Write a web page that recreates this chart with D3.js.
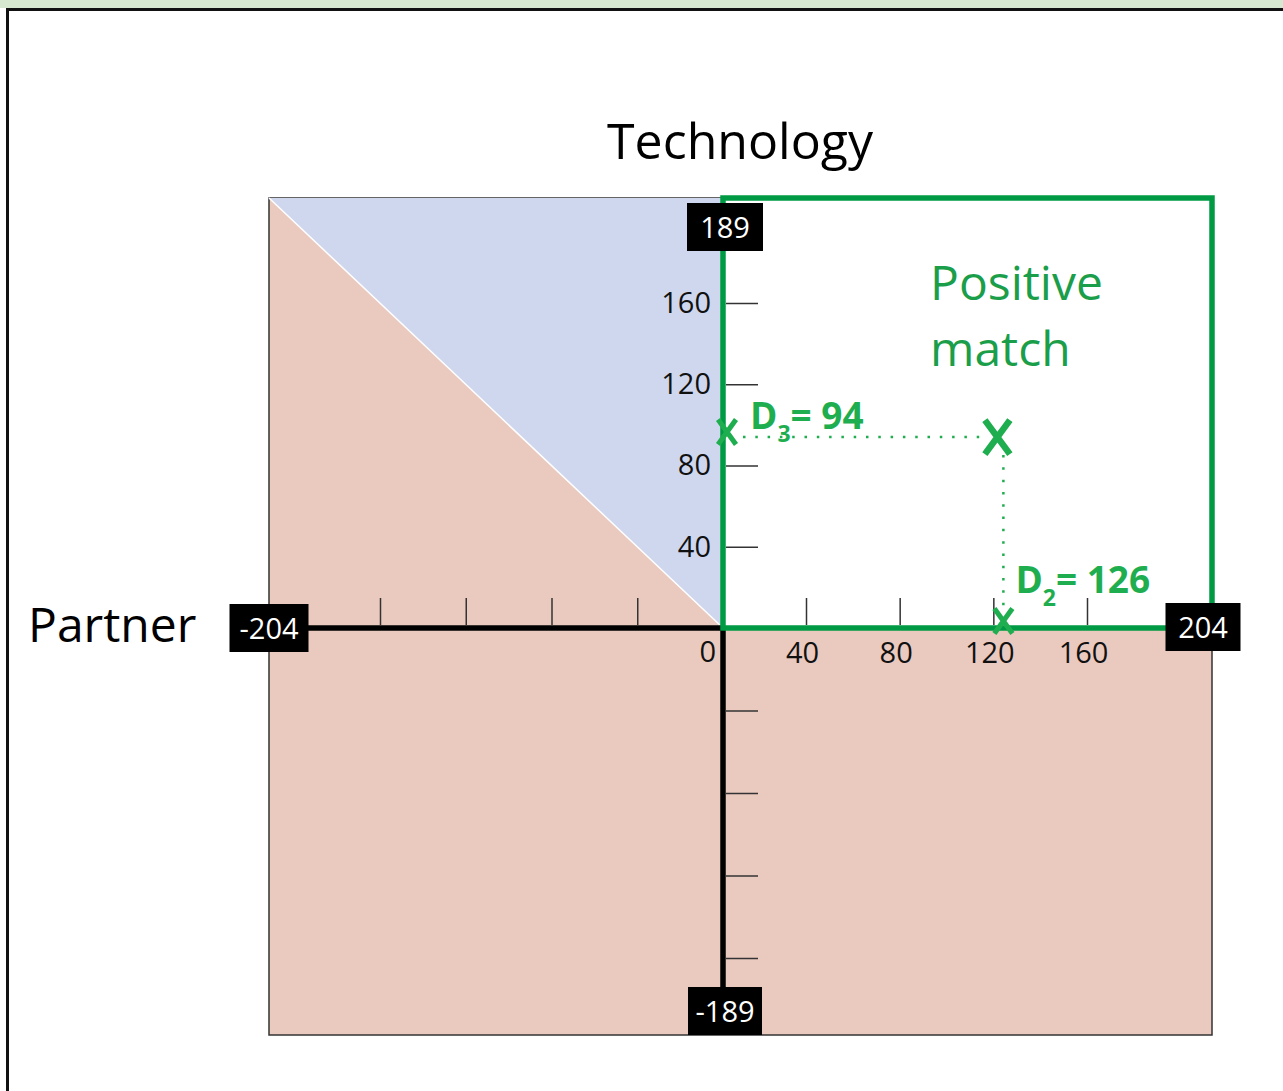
<!DOCTYPE html>
<html>
<head>
<meta charset="utf-8">
<script src="https://cdn.jsdelivr.net/npm/d3@7"></script>
<style>
  body { margin: 0; background: #fff; }
  svg { display: block; font-family: "Open Sans", "Noto Sans", sans-serif; }
</style>
</head>
<body>
<svg width="1283" height="1091"></svg>
<script>
// axis ends and ticks
var partnerRange = [-204, 204],
    techRange = [-189, 189],
    xTickValues = [-160, -120, -80, -40, 40, 80, 120, 160],
    xLabelValues = [40, 80, 120, 160],
    yTickValues = [-160, -120, -80, -40, 40, 80, 120, 160],
    yLabelValues = [40, 80, 120, 160];

// the matched point (D2 = partner, D3 = technology)
var matchPoint = [126, 94];
var matchNames = ["2", "3"];

var svg = d3.select("svg");

var green = "#009a44",
    textGreen = "#1a9e4a",
    labelGreen = "#1fae4f";

// the drawing is not spaced evenly, so the scales are piecewise
var x = d3.scaleLinear()
    .domain([partnerRange[0], -160, 0, 40, 160, partnerRange[1]])
    .range([269, 380, 723, 806, 1087, 1212]);

var y = d3.scaleLinear()
    .domain([techRange[0], -160, 0, 160, techRange[1]])
    .range([1035, 958, 628, 303, 198]);

// page frame
svg.append("rect")
    .attr("x", 0).attr("y", 0).attr("width", 1283).attr("height", 8)
    .attr("fill", "#d6e8cf");
svg.append("rect")
    .attr("x", 7.5).attr("y", 9.5).attr("width", 1400).attr("height", 1200)
    .attr("fill", "none").attr("stroke", "#111").attr("stroke-width", 3);

// background regions
svg.append("rect")
    .attr("x", x(partnerRange[0])).attr("y", y(techRange[1]))
    .attr("width", x(partnerRange[1]) - x(partnerRange[0]))
    .attr("height", y(techRange[0]) - y(techRange[1]))
    .attr("fill", "#eac9bf")
    .attr("stroke", "#333")
    .attr("stroke-width", 1.5);

svg.append("path")
    .attr("d", d3.line()([
        [x(partnerRange[0]), y(techRange[1])],
        [x(0), y(techRange[1])],
        [x(0), y(0)]
    ]) + "Z")
    .attr("fill", "#cfd7ee");

svg.append("line")
    .attr("x1", x(partnerRange[0])).attr("y1", y(techRange[1]))
    .attr("x2", x(0)).attr("y2", y(0))
    .attr("stroke", "#fff").attr("stroke-width", 1.5);

svg.append("rect")
    .attr("x", x(0)).attr("y", y(techRange[1]))
    .attr("width", x(partnerRange[1]) - x(0))
    .attr("height", y(0) - y(techRange[1]))
    .attr("fill", "#fff");

// tick marks above the x axis, labels below
svg.append("g")
    .attr("transform", "translate(0," + (y(0) - 3) + ")")
    .call(d3.axisTop(x).tickValues(xTickValues).tickSize(27).tickFormat(""))
    .call(function (g) { g.select(".domain").remove(); })
    .selectAll("line").attr("stroke", "#333").attr("stroke-width", 1.5);

svg.append("g")
    .attr("transform", "translate(0," + (y(0) + 14) + ")")
    .call(d3.axisBottom(x).tickValues(xLabelValues).tickSize(0).tickPadding(0))
    .call(function (g) { g.select(".domain").remove(); })
    .selectAll("text")
    .attr("font-family", "Open Sans")
    .attr("font-size", 29)
    .attr("fill", "#111")
    .attr("dx", -4);

svg.append("text")
    .attr("x", x(0) - 7).attr("y", y(0) + 34)
    .attr("text-anchor", "end")
    .attr("font-size", 29).attr("fill", "#111")
    .text("0");

// tick marks right of the y axis, labels left
svg.append("g")
    .attr("transform", "translate(" + (x(0) + 3) + ",0)")
    .call(d3.axisRight(y).tickValues(yTickValues).tickSize(32).tickFormat(""))
    .call(function (g) { g.select(".domain").remove(); })
    .selectAll("line").attr("stroke", "#333").attr("stroke-width", 1.5);

svg.append("g")
    .attr("transform", "translate(" + (x(0) - 12) + ",0)")
    .call(d3.axisLeft(y).tickValues(yLabelValues).tickSize(0).tickPadding(0))
    .call(function (g) { g.select(".domain").remove(); })
    .selectAll("text")
    .attr("font-family", "Open Sans")
    .attr("font-size", 29)
    .attr("fill", "#111");

// black axis lines
svg.append("line")
    .attr("x1", x(partnerRange[0])).attr("y1", y(0))
    .attr("x2", x(0)).attr("y2", y(0))
    .attr("stroke", "#000").attr("stroke-width", 5.5);
svg.append("line")
    .attr("x1", x(0)).attr("y1", y(0))
    .attr("x2", x(0)).attr("y2", y(techRange[0]) - 30)
    .attr("stroke", "#000").attr("stroke-width", 5.5);

// positive match quadrant
svg.append("rect")
    .attr("x", x(0)).attr("y", y(techRange[1]))
    .attr("width", x(partnerRange[1]) - x(0))
    .attr("height", y(0) - y(techRange[1]))
    .attr("fill", "none")
    .attr("stroke", green)
    .attr("stroke-width", 5.5);

svg.append("text")
    .attr("x", 930).attr("y", 300)
    .attr("font-size", 48).attr("fill", textGreen)
    .selectAll("tspan")
    .data(["Positive", "match"])
    .enter().append("tspan")
    .attr("x", 930)
    .attr("dy", function (d, i) { return i ? 66 : 0; })
    .text(function (d) { return d; });

// end labels in black boxes
var endLabels = [
    {text: String(techRange[1]), cx: x(0) + 2, cy: y(techRange[1]) + 29, w: 76},
    {text: String(techRange[0]), cx: x(0) + 2, cy: y(techRange[0]) - 24, w: 74},
    {text: String(partnerRange[0]), cx: x(partnerRange[0]), cy: y(0) - 0, w: 79},
    {text: String(partnerRange[1]), cx: x(partnerRange[1]) - 9, cy: y(0) - 1, w: 75}
];
var boxes = svg.append("g").selectAll("g")
    .data(endLabels)
    .enter().append("g")
    .attr("transform", function (d) { return "translate(" + d.cx + "," + d.cy + ")"; });
boxes.append("rect")
    .attr("x", function (d) { return -d.w / 2; })
    .attr("y", -24).attr("width", function (d) { return d.w; }).attr("height", 48)
    .attr("fill", "#000");
boxes.append("text")
    .attr("text-anchor", "middle")
    .attr("y", 11)
    .attr("font-size", 29).attr("fill", "#fff")
    .text(function (d) { return d.text; });

// dotted guides
svg.append("line")
    .attr("x1", x(0) + 20).attr("y1", y(matchPoint[1]))
    .attr("x2", x(matchPoint[0]) - 24).attr("y2", y(matchPoint[1]))
    .attr("stroke", labelGreen).attr("stroke-width", 2.5)
    .attr("stroke-dasharray", "2.5,9.8");
svg.append("line")
    .attr("x1", x(matchPoint[0]) - 4).attr("y1", y(matchPoint[1]) + 18)
    .attr("x2", x(matchPoint[0]) - 4).attr("y2", y(0) - 22)
    .attr("stroke", labelGreen).attr("stroke-width", 2.5)
    .attr("stroke-dasharray", "2.5,9.8");

// X marks, drawn as crossed strokes
var marks = [
    {px: 0, py: matchPoint[1], w: 18, h: 25, sw: 5, dx: 4, dy: -5},
    {px: matchPoint[0], py: matchPoint[1], w: 25, h: 34, sw: 6.5, dx: -10, dy: 0},
    {px: matchPoint[0], py: 0, w: 18, h: 25, sw: 5, dx: -4, dy: -7}
];
svg.append("g").selectAll("path")
    .data(marks)
    .enter().append("path")
    .attr("d", function (d) {
        var cx = x(d.px) + d.dx, cy = y(d.py) + d.dy, p = d3.path();
        p.moveTo(cx - d.w / 2, cy - d.h / 2); p.lineTo(cx + d.w / 2, cy + d.h / 2);
        p.moveTo(cx + d.w / 2, cy - d.h / 2); p.lineTo(cx - d.w / 2, cy + d.h / 2);
        return p.toString();
    })
    .attr("fill", "none")
    .attr("stroke", labelGreen)
    .attr("stroke-width", function (d) { return d.sw; });

// distance labels
var distLabels = [
    {sub: matchNames[1], value: matchPoint[1], lx: x(0) + 27, ly: y(matchPoint[1]) - 8},
    {sub: matchNames[0], value: matchPoint[0], lx: x(matchPoint[0]) + 8, ly: y(0) - 35}
];
var dl = svg.append("g").selectAll("text")
    .data(distLabels)
    .enter().append("text")
    .attr("x", function (d) { return d.lx; })
    .attr("y", function (d) { return d.ly; })
    .attr("font-size", 37).attr("font-weight", "bold")
    .attr("fill", labelGreen);
dl.append("tspan").text("D");
dl.append("tspan").attr("font-size", 23).attr("dy", 13)
    .text(function (d) { return d.sub; });
dl.append("tspan").attr("dy", -13)
    .text(function (d) { return "= " + d.value; });

// axis titles
svg.append("text")
    .attr("x", 740).attr("y", 159)
    .attr("text-anchor", "middle")
    .attr("font-size", 50).attr("fill", "#000")
    .text("Technology");

svg.append("text")
    .attr("x", 28).attr("y", 642)
    .attr("font-size", 48).attr("fill", "#000")
    .text("Partner");
</script>
</body>
</html>
